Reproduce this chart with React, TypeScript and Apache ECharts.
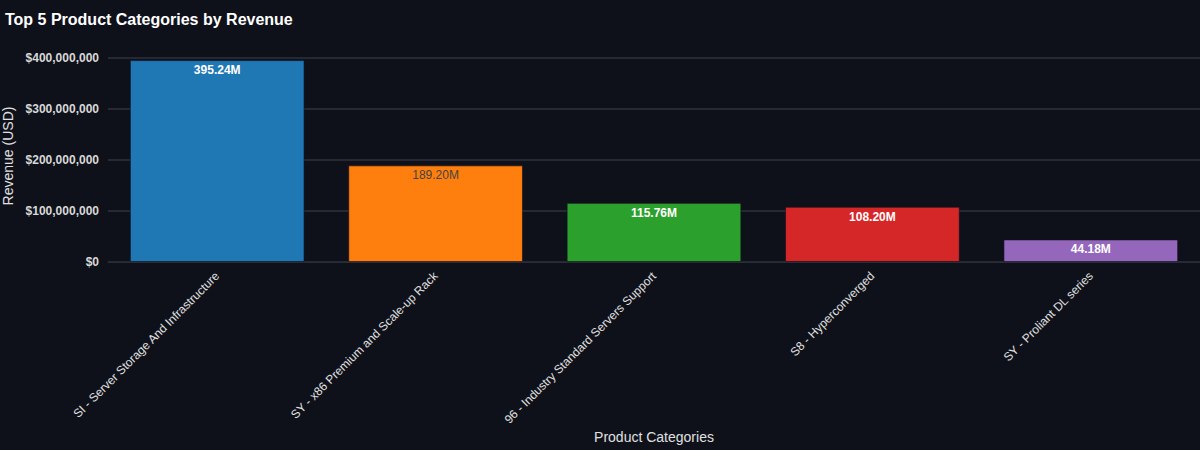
import React, { useEffect, useRef } from "react";
import * as echarts from "echarts";

const categories = [
  "SI - Server Storage And Infrastructure",
  "SY - x86 Premium and Scale-up Rack",
  "96 - Industry Standard Servers Support",
  "S8 - Hyperconverged",
  "SY - Proliant DL series",
];
const revenue = [395240000, 189200000, 115760000, 108200000, 44180000];
const barColors = ["#1f77b4", "#ff7f0e", "#2ca02c", "#d62728", "#9467bd"];
const labelColors = ["#ffffff", "#444444", "#ffffff", "#ffffff", "#ffffff"];
const labelWeights = ["bold", "normal", "bold", "bold", "bold"];

export default function App() {
  const ref = useRef<HTMLDivElement>(null);
  useEffect(() => {
    const chart = echarts.init(ref.current!, null, { renderer: "svg" });
    const fmtTick = (v: number) => "$" + Math.round(v).toLocaleString("en-US");
    chart.setOption({
      animation: false,
      backgroundColor: "#0f111a",
      textStyle: { fontFamily: "Arial, 'Liberation Sans', sans-serif" },
      title: {
        text: "Top 5 Product Categories by Revenue",
        left: 0,
        top: 6,
        textStyle: { color: "#ffffff", fontSize: 16, fontWeight: "bold" },
      },
      grid: {
        left: 108,
        right: 0,
        top: 50,
        bottom: 188,
        containLabel: false,
        outerBoundsMode: "none",
      },
      xAxis: {
        type: "category",
        data: categories,
        name: "Product Categories",
        nameLocation: "middle",
        nameGap: 168,
        nameTextStyle: { color: "#e0e0e0", fontSize: 14 },
        axisLine: { show: true, lineStyle: { color: "#2a2d37" } },
        axisTick: { show: false },
        axisLabel: { rotate: 45, color: "#e0e0e0", fontSize: 12, margin: 12 },
      },
      yAxis: {
        type: "value",
        min: 0,
        max: 415000000,
        interval: 100000000,
        name: "Revenue (USD)",
        nameLocation: "middle",
        nameGap: 91,
        nameTextStyle: { color: "#e0e0e0", fontSize: 14 },
        axisLine: { show: false },
        axisTick: { show: false },
        axisLabel: {
          color: "#d8d8d8",
          fontSize: 12,
          fontWeight: "bold",
          margin: 9,
          showMaxLabel: false,
          formatter: (v: number) => (v % 100000000 === 0 ? fmtTick(v) : ""),
        },
        splitLine: { show: true, showMaxLine: false, lineStyle: { color: "#262934", width: 2 } },
      },
      series: [
        {
          type: "bar",
          barCategoryGap: "20%",
          data: revenue.map((v, i) => ({
            value: v,
            itemStyle: {
              color: barColors[i],
              borderColor: "rgba(15,17,26,0.6)",
              borderWidth: 1,
            },
            label: { color: labelColors[i], fontWeight: labelWeights[i] },
          })),
          label: {
            show: true,
            position: "insideTop",
            distance: 4,
            fontSize: 12,
            formatter: (p: any) => (p.value / 1e6).toFixed(2) + "M",
          },
        },
      ],
    });
    return () => chart.dispose();
  }, []);
  return (
    <div
      ref={ref}
      style={{ position: "fixed", left: 0, top: 0, width: 1200, height: 450 }}
    />
  );
}
